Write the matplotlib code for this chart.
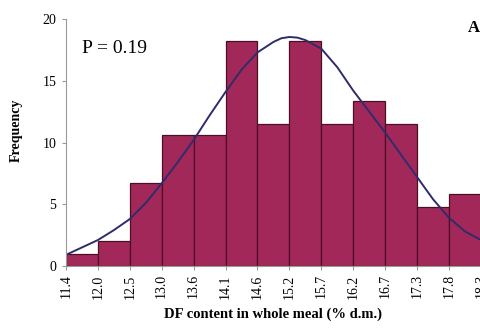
import numpy as np
import matplotlib.pyplot as plt

plt.rcParams['font.family'] = ['Liberation Serif', 'DejaVu Serif']

# bin edges (labels) and bar heights
edge_labels = ['11.4', '12.0', '12.5', '13.0', '13.6', '14.1', '14.6',
               '15.2', '15.7', '16.2', '16.7', '17.3', '17.8', '18.3']
freq = [1.0, 2.0, 6.75, 10.6, 10.6, 18.25, 11.5,
        18.25, 11.5, 13.4, 11.5, 4.8, 5.8]

# fitted normal curve (x in bin units, y in frequency)
curve_x = [0.0, 0.5, 1.0, 1.5, 2.0, 2.5, 3.0, 3.5, 4.0, 4.5, 5.0, 5.5, 6.0,
           6.5, 6.75, 7.0, 7.25, 7.5, 8.0, 8.5, 9.0, 9.5, 10.0, 10.5, 11.0,
           11.5, 12.0, 12.5, 13.0]
curve_y = [0.9, 1.5, 2.1, 2.9, 3.8, 5.1, 6.7, 8.4, 10.2, 12.2, 14.1, 15.9,
           17.3, 18.15, 18.45, 18.55, 18.5, 18.3, 17.6, 16.1, 14.2, 12.5,
           10.8, 9.0, 7.2, 5.4, 3.9, 2.8, 2.1]

fig = plt.figure(figsize=(4.81, 3.35), dpi=100)
ax = fig.add_axes([0.137, 0.206, 0.863, 0.737])

pos = np.arange(len(freq))
ax.bar(pos, freq, width=1.0, align='edge', color='#A3285A',
       edgecolor='#4A1024', linewidth=0.9)
ax.plot(curve_x, curve_y, color='#2E2C6B', linewidth=1.4)

ax.set_xlim(0, 13)
ax.set_ylim(0, 20)
ax.set_yticks([0, 5, 10, 15, 20])
ax.set_xticks(np.arange(len(edge_labels)))
ax.set_xticklabels(edge_labels, rotation=90, fontsize=10)
ax.tick_params(axis='y', labelsize=10, length=3, color='#999999', pad=4)
ax.tick_params(axis='x', length=3, color='#999999', pad=3)

for s in ['top', 'right']:
    ax.spines[s].set_visible(False)
ax.spines['left'].set_color('#999999')
ax.spines['bottom'].set_color('#999999')

ax.set_ylabel('Frequency', fontsize=10, fontweight='bold', labelpad=12)
ax.yaxis.set_label_coords(-0.105, 0.55)
ax.set_xlabel('DF content in whole meal (% d.m.)', fontsize=10.5,
              fontweight='bold', labelpad=6)

ax.text(0.5, 17.6, 'P = 0.19', fontsize=14, va='center')
fig.text(0.973, 0.905, 'A', fontsize=12, fontweight='bold', ha='left')

fig.savefig('out.png', dpi=100)
